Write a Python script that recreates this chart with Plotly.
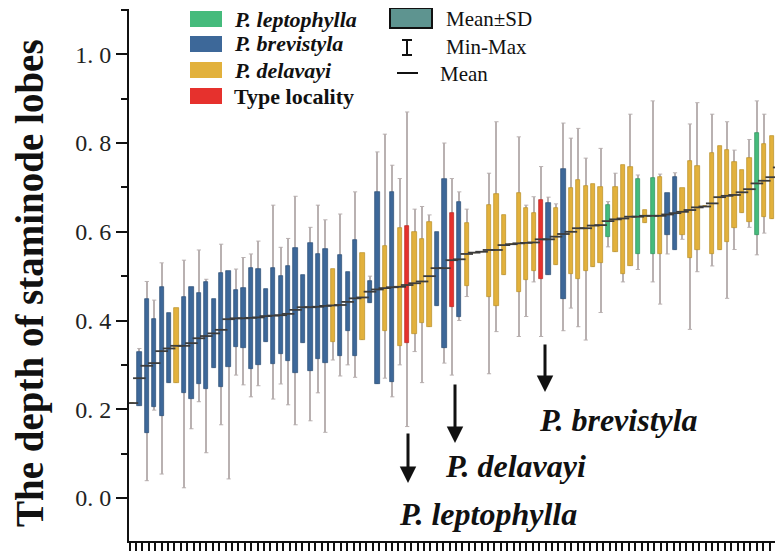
import plotly.graph_objects as go

# ---------------- data ----------------
groups = ["Y","B","B","B","B","B","Y","B","B","B","B","B","B","B","B","B","B","B","B","B",
          "B","B","B","B","B","B","B","Y","B","B","B","Y","B","B","Y","B","Y","R","Y","Y",
          "Y","B","B","R","B","Y","Y","Y","Y","Y","Y","Y","Y","Y","Y","R","B","Y","B","Y",
          "Y","Y","Y","Y","G","Y","Y","Y","G","Y","G","Y","B","B","Y","Y","Y","Y","Y","Y",
          "Y","Y","Y","Y","G","Y","Y","Y"]
sd_high = [0.214,0.330,0.448,0.403,0.476,0.416,0.428,0.454,0.475,0.461,0.486,0.448,0.506,0.512,0.469,0.473,0.519,0.516,0.471,0.519,
           0.501,0.523,0.563,0.503,0.575,0.550,0.561,0.516,0.548,0.510,0.581,0.553,0.489,0.690,0.568,0.690,0.608,0.613,0.599,0.583,
           0.621,0.599,0.720,0.643,0.668,0.619,0.553,0.555,0.660,0.685,0.638,0.572,0.687,0.653,0.642,0.672,0.666,0.653,0.741,0.698,
           0.717,0.703,0.708,0.700,0.660,0.700,0.751,0.745,0.718,0.649,0.721,0.724,0.687,0.723,0.698,0.760,0.748,0.657,0.777,0.793,
           0.784,0.758,0.739,0.766,0.823,0.798,0.817,0.783]
sd_low = [0.214,0.207,0.147,0.204,0.185,0.259,0.260,0.237,0.223,0.257,0.246,0.292,0.251,0.295,0.340,0.337,0.291,0.300,0.351,0.302,
          0.325,0.309,0.282,0.349,0.286,0.313,0.304,0.351,0.321,0.377,0.320,0.355,0.440,0.258,0.377,0.262,0.343,0.350,0.369,0.395,
          0.385,0.433,0.339,0.431,0.407,0.478,0.553,0.555,0.454,0.433,0.503,0.572,0.465,0.491,0.512,0.493,0.503,0.525,0.448,0.505,
          0.493,0.512,0.521,0.529,0.588,0.555,0.505,0.523,0.551,0.620,0.551,0.550,0.593,0.559,0.593,0.540,0.560,0.657,0.551,0.559,
          0.578,0.608,0.642,0.623,0.593,0.633,0.628,0.705]
means = [0.214,0.270,0.298,0.304,0.331,0.337,0.343,0.343,0.349,0.360,0.365,0.371,0.379,0.403,0.405,0.405,0.406,0.407,0.410,0.411,
         0.412,0.415,0.424,0.430,0.430,0.431,0.433,0.434,0.435,0.442,0.450,0.452,0.465,0.470,0.473,0.475,0.476,0.480,0.484,0.488,
         0.500,0.518,0.518,0.536,0.538,0.550,0.553,0.555,0.559,0.559,0.570,0.572,0.574,0.575,0.576,0.583,0.583,0.589,0.595,0.600,
         0.608,0.608,0.614,0.615,0.624,0.628,0.630,0.634,0.634,0.636,0.636,0.636,0.639,0.642,0.645,0.649,0.655,0.657,0.664,0.678,
         0.681,0.683,0.689,0.696,0.709,0.715,0.723,0.745]
maxs = [0.214,0.337,0.488,0.446,0.530,0.416,0.428,0.536,0.475,0.559,0.493,0.448,0.572,0.512,0.516,0.542,0.550,0.579,0.471,0.660,
        0.565,0.585,0.680,0.503,0.610,0.660,0.627,0.516,0.640,0.510,0.690,0.553,0.500,0.780,0.820,0.750,0.720,0.870,0.651,0.657,
        0.638,0.599,0.800,0.720,0.690,0.651,0.553,0.555,0.732,0.848,0.638,0.572,0.814,0.660,0.679,0.747,0.678,0.663,0.845,0.811,
        0.833,0.766,0.708,0.788,0.668,0.732,0.751,0.865,0.728,0.649,0.895,0.730,0.687,0.733,0.698,0.843,0.891,0.657,0.865,0.793,
        0.848,0.784,0.739,0.808,0.895,0.865,0.817,0.783]
mins = [0.214,0.207,0.039,0.198,0.054,0.259,0.260,0.023,0.156,0.217,0.102,0.292,0.165,0.043,0.277,0.255,0.228,0.253,0.351,0.223,
        0.257,0.210,0.165,0.349,0.174,0.237,0.148,0.311,0.275,0.300,0.272,0.355,0.440,0.258,0.270,0.228,0.300,0.161,0.330,0.260,
        0.385,0.433,0.304,0.277,0.400,0.454,0.553,0.555,0.280,0.375,0.503,0.572,0.364,0.409,0.487,0.364,0.503,0.525,0.377,0.428,
        0.386,0.356,0.521,0.418,0.566,0.555,0.487,0.523,0.515,0.620,0.487,0.437,0.550,0.559,0.583,0.380,0.510,0.657,0.523,0.559,
        0.450,0.560,0.642,0.610,0.548,0.597,0.628,0.705]

legend_names = ["P. leptophylla", "P. brevistyla", "P. delavayi", "Type locality"]
legend_codes = ["G", "B", "Y", "R"]
stat_names = ["Mean±SD", "Min-Max", "Mean"]
arrow_labels = ["P. brevistyla", "P. delavayi", "P. leptophylla"]
y_ticks = [0.0, 0.2, 0.4, 0.6, 0.8, 1.0]
y_ticktext = ["0. 0", "0. 2", "0. 4", "0. 6", "0. 8", "1. 0"]
y_minor = [0.1, 0.3, 0.5, 0.7, 0.9, 1.1]

# ---------------- styles ----------------
FILL = {"B": "#3d6899", "Y": "#e2b13c", "G": "#45bb7c", "R": "#e6312d"}
EDGE = {"B": "#2b4d74", "Y": "#b88e25", "G": "#2e8f5a", "R": "#b52420"}
WHISK = "#b9b1b1"
FONT = "Liberation Serif"

OFF = 8                       # page body margin offset of the plot div
W, H = 783 - OFF, 554 - OFF   # figure size
# plot-area edges in page pixels
X0, X1, YT, YB = 129, 783, 9, 541


def px(x):
    return (x - X0) / (X1 - X0)


def py(y):
    return (YB - y) / (YB - YT)


xs = list(range(len(means)))

fig = go.Figure()

# whiskers (thin bars, drawn first)
fig.add_trace(go.Bar(x=xs, base=mins, y=[a - b for a, b in zip(maxs, mins)], width=0.16,
                     marker=dict(color=WHISK, line=dict(width=0)), showlegend=False,
                     hoverinfo="skip"))
# Mean ± SD boxes
fig.add_trace(go.Bar(x=xs, base=sd_low, y=[a - b for a, b in zip(sd_high, sd_low)], width=0.58,
                     marker=dict(color=[FILL[g] for g in groups],
                                 line=dict(color=[EDGE[g] for g in groups], width=0.7)),
                     showlegend=False))
# whisker caps
cap_x = [x for x, hi, m in zip(xs, sd_high, maxs) if m > hi + 0.003] + \
        [x for x, lo, m in zip(xs, sd_low, mins) if m < lo - 0.003]
cap_y = [m for hi, m in zip(sd_high, maxs) if m > hi + 0.003] + \
        [m for lo, m in zip(sd_low, mins) if m < lo - 0.003]
fig.add_trace(go.Scatter(x=cap_x, y=cap_y, mode="markers",
                         marker=dict(symbol="line-ew", size=3, line=dict(color=WHISK, width=1)),
                         showlegend=False, hoverinfo="skip"))
# means
fig.add_trace(go.Scatter(x=xs, y=means, mode="markers",
                         marker=dict(symbol="line-ew", size=9, line=dict(color="#3c3c3c", width=1.8)),
                         showlegend=False))
# dummy trace for the dense x tick axis
fig.add_trace(go.Scatter(x=[None], y=[None], xaxis="x2", showlegend=False, hoverinfo="skip"))

shapes = []
annotations = []

# species legend
row_y = [19, 44, 70, 96]
for name, code, yc in zip(legend_names, legend_codes, row_y):
    shapes.append(dict(type="rect", xref="paper", yref="paper", x0=px(190), x1=px(222),
                       y0=py(yc + 8), y1=py(yc - 8), fillcolor=FILL[code], line=dict(width=0)))
    italic = name.startswith("P.")
    txt = f"<b><i>{name}</i></b>" if italic else f"<b>{name}</b>"
    annotations.append(dict(xref="paper", yref="paper", x=px(232), y=py(yc), text=txt,
                            showarrow=False, xanchor="left", yanchor="middle",
                            font=dict(family=FONT, size=22, color="#111")))

# statistics legend
shapes.append(dict(type="rect", xref="paper", yref="paper", x0=px(390), x1=px(432), y0=py(28), y1=py(8),
                   fillcolor="#5e9490", line=dict(color="#111", width=2)))
shapes.append(dict(type="line", xref="paper", yref="paper", x0=px(407), x1=px(407), y0=py(55), y1=py(40),
                   line=dict(color="#111", width=2)))
shapes.append(dict(type="line", xref="paper", yref="paper", x0=px(402), x1=px(412), y0=py(40), y1=py(40),
                   line=dict(color="#111", width=2)))
shapes.append(dict(type="line", xref="paper", yref="paper", x0=px(402), x1=px(412), y0=py(55), y1=py(55),
                   line=dict(color="#111", width=2)))
shapes.append(dict(type="line", xref="paper", yref="paper", x0=px(397), x1=px(418), y0=py(73), y1=py(73),
                   line=dict(color="#111", width=2)))
for name, xl, yc in zip(stat_names, [444, 444, 438], [19, 47, 74]):
    annotations.append(dict(xref="paper", yref="paper", x=px(xl), y=py(yc), text=name,
                            showarrow=False, xanchor="left", yanchor="middle",
                            font=dict(family=FONT, size=21, color="#111")))

# arrows and labels
arrow_x = [545, 455, 408]
arrow_tail = [343, 383, 432]
arrow_tip = [392, 443, 483]
label_left = [537, 443, 397]
label_cy = [420, 466, 514]
for lab, ax_, t0, t1, lx, ly in zip(arrow_labels, arrow_x, arrow_tail, arrow_tip, label_left, label_cy):
    annotations.append(dict(xref="paper", yref="paper", x=px(ax_), y=py(t1), ax=0, ay=-(t1 - t0),
                            text="", showarrow=True, arrowhead=2, arrowsize=1.1, arrowwidth=3,
                            arrowcolor="#111"))
    annotations.append(dict(xref="paper", yref="paper", x=px(lx), y=py(ly), text=f"<b><i>{lab}</i></b>",
                            showarrow=False, xanchor="left", yanchor="middle",
                            font=dict(family=FONT, size=32, color="#111")))

# y-axis title
annotations.append(dict(xref="paper", yref="paper", x=px(30), y=py(283), text="<b>The depth of staminode lobes</b>",
                        textangle=-90, showarrow=False, xanchor="center", yanchor="middle",
                        font=dict(family=FONT, size=39, color="#111")))

y_lo = (498 - YB) / 443.7
y_hi = (498 - YT) / 443.7
x_lo = -(131.9 - X0) / 7.44
x_hi = (X1 - 131.9) / 7.44

fig.update_layout(
    width=W, height=H, autosize=False,
    margin=dict(l=X0 - OFF, r=(783 - X1), t=YT - OFF, b=554 - YB, pad=0),
    paper_bgcolor="white", plot_bgcolor="rgba(0,0,0,0)",
    barmode="overlay", bargap=0,
    showlegend=False,
    shapes=shapes, annotations=annotations,
    xaxis=dict(range=[x_lo, x_hi], showline=True, linecolor="#111", linewidth=2,
               ticks="", showticklabels=False, showgrid=False, zeroline=False),
    xaxis2=dict(overlaying="x", range=[0, (X1 - X0) / 6.4], tick0=0.1, dtick=1,
                ticks="outside", ticklen=9, tickwidth=2, tickcolor="#111",
                showticklabels=False, showgrid=False, zeroline=False, showline=False,
                side="bottom"),
    yaxis=dict(range=[y_lo, y_hi], showline=True, linecolor="#111", linewidth=2,
               tickvals=y_ticks, ticktext=y_ticktext, ticks="outside", ticklen=11,
               tickwidth=2, tickcolor="#111",
               tickfont=dict(family=FONT, size=24, color="#222"),
               minor=dict(tickvals=y_minor, ticks="outside", ticklen=6, tickwidth=2, tickcolor="#111"),
               showgrid=False, zeroline=False),
)

fig.write_html("out.html")
